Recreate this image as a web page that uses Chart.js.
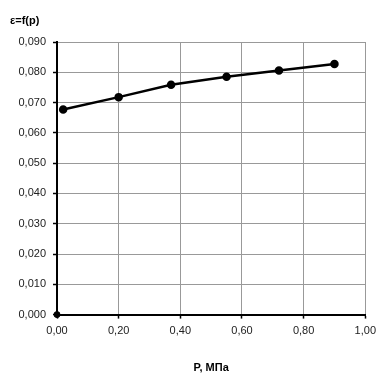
<!DOCTYPE html>
<html><head><meta charset="utf-8">
<script src="https://cdn.jsdelivr.net/npm/chart.js@4"></script>
<style>html,body{margin:0;padding:0;background:#fff}#w{width:382px;height:384px}</style>
</head><body><div id="w"><canvas id="c" width="382" height="384"></canvas></div>
<script>
const pressure = [0.02, 0.20, 0.37, 0.55, 0.72, 0.90];
const strain = [0.0677, 0.0718, 0.0759, 0.0785, 0.0806, 0.0827];
const originX = [0];
const originY = [0];
const chartTitle = 'ε=f(p)';
const xTitle = 'P, МПа';
const FONT = 'Liberation Sans, Arial, sans-serif';

new Chart(document.getElementById('c'), {
  type: 'scatter',
  data: {
    datasets: [
      { data: pressure.map((x,i)=>({x, y: strain[i]})), showLine: true, borderColor: '#000', backgroundColor: '#000', borderWidth: 2.5, pointRadius: 3, pointHoverRadius: 3, tension: 0, clip: false },
      { data: originX.map((x,i)=>({x, y: originY[i]})), showLine: false, borderColor: '#000', backgroundColor: '#000', pointRadius: 3, clip: false }
    ]
  },
  options: {
    responsive: false, animation: false, devicePixelRatio: 1,
    layout: { padding: { left: 10, right: 10, top: 0, bottom: 0 } },
    plugins: {
      legend: { display: false }, tooltip: { enabled: false },
      title: { display: true, text: chartTitle, align: 'start', color: '#000', font: { family: FONT, size: 11, weight: 'bold' }, padding: { top: 14, bottom: 14.8 } }
    },
    scales: {
      x: {
        type: 'linear', min: 0, max: 1,
        ticks: { stepSize: 0.2, color: '#222', font: { family: FONT, size: 11 }, padding: 6, maxRotation: 0, callback: v => v.toFixed(2).replace('.', ',') },
        grid: { color: '#999', lineWidth: 1, tickColor: '#000', tickLength: 4, tickWidth: 1.5 },
        border: { color: '#000', width: 2 },
        title: { display: true, text: xTitle, color: '#000', font: { family: FONT, size: 11, weight: 'bold' }, padding: { top: 18, bottom: 9 } }
      },
      y: {
        type: 'linear', min: 0, max: 0.09,
        afterFit: s => { s.width = 47; },
        ticks: { stepSize: 0.01, color: '#222', font: { family: FONT, size: 11 }, padding: 7, callback: v => v.toFixed(3).replace('.', ',') },
        grid: { color: '#999', lineWidth: 1, tickColor: '#000', tickLength: 4, tickWidth: 1.5 },
        border: { color: '#000', width: 2 }
      }
    }
  }
});
</script></body></html>
